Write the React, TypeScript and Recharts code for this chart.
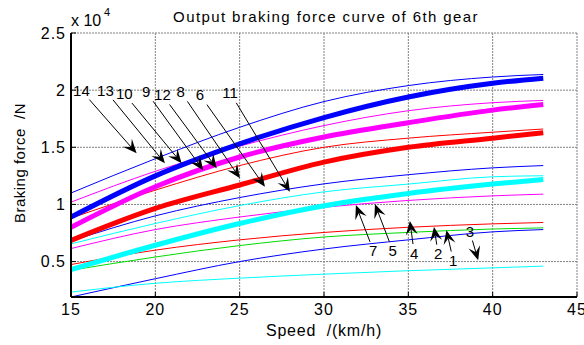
import React from 'react';
import { LineChart, Line, XAxis, YAxis, CartesianGrid, ReferenceLine } from 'recharts';

// Speed (km/h)
const speeds = [15, 20, 25, 30, 35, 40, 43];
// Braking force (x 10^4 N)
const thickBlue = [0.89, 1.25, 1.53, 1.76, 1.94, 2.06, 2.105];
const thickMagenta = [0.8, 1.155, 1.415, 1.59, 1.715, 1.825, 1.875];
const thickRed = [0.685, 0.965, 1.17, 1.37, 1.5, 1.58, 1.628];
const thickCyan = [0.43, 0.643, 0.833, 0.988, 1.096, 1.178, 1.219];
const thinBlue1 = [1.1, 1.4, 1.675, 1.9, 2.04, 2.115, 2.137];
const thinMagenta1 = [1.02, 1.29, 1.51, 1.69, 1.82, 1.89, 1.91];
const thinRed1 = [0.88, 1.125, 1.34, 1.5, 1.58, 1.632, 1.66];
const thinBlue2 = [0.68, 0.9, 1.06, 1.18, 1.26, 1.32, 1.34];
const thinCyan1 = [0.655, 0.833, 0.99, 1.11, 1.178, 1.242, 1.251];
const thinMagenta2 = [0.614, 0.78, 0.89, 0.975, 1.035, 1.075, 1.09];
const thinRed2 = [0.474, 0.6, 0.69, 0.755, 0.8, 0.83, 0.842];
const thinGreen = [0.424, 0.54, 0.64, 0.715, 0.755, 0.785, 0.795];
const thinBlue3 = [0.19, 0.35, 0.5, 0.61, 0.69, 0.76, 0.78];
const thinCyan3 = [0.233, 0.31, 0.355, 0.39, 0.42, 0.445, 0.46];

const xTicks = [15, 20, 25, 30, 35, 40, 45];
const yTicks = [0.5, 1, 1.5, 2, 2.5];

// annotation arrows: label position -> arrow tip (data coordinates)
const topArrows = [
  { label: '14', lx: 15.62, ly: 1.996, tx: 18.89, ty: 1.447 },
  { label: '13', lx: 17.04, ly: 1.996, tx: 20.57, ty: 1.36 },
  { label: '10', lx: 18.16, ly: 1.968, tx: 21.56, ty: 1.36 },
  { label: '9', lx: 19.45, ly: 1.988, tx: 22.84, ty: 1.3 },
  { label: '12', lx: 20.42, ly: 1.959, tx: 23.64, ty: 1.316 },
  { label: '8', lx: 21.5, ly: 1.988, tx: 25.02, ty: 1.228 },
  { label: '6', lx: 22.65, ly: 1.959, tx: 26.5, ty: 1.154 },
  { label: '11', lx: 24.43, ly: 1.979, tx: 27.98, ty: 1.11 },
];
const bottomArrows = [
  { label: '7', lx: 32.92, ly: 0.599, tx: 31.89, ty: 0.994 },
  { label: '5', lx: 34.07, ly: 0.599, tx: 33.02, ty: 1.003 },
  { label: '4', lx: 35.35, ly: 0.575, tx: 35.09, ty: 0.856 },
  { label: '2', lx: 36.77, ly: 0.57, tx: 36.52, ty: 0.803 },
  { label: '1', lx: 37.66, ly: 0.511, tx: 37.26, ty: 0.775 },
  { label: '3', lx: 38.65, ly: 0.76, tx: 39.14, ty: 0.511 },
];

const data = speeds.map((x, i) => ({
  x,
  thickBlue: thickBlue[i],
  thickMagenta: thickMagenta[i],
  thickRed: thickRed[i],
  thickCyan: thickCyan[i],
  thinBlue1: thinBlue1[i],
  thinMagenta1: thinMagenta1[i],
  thinRed1: thinRed1[i],
  thinBlue2: thinBlue2[i],
  thinCyan1: thinCyan1[i],
  thinMagenta2: thinMagenta2[i],
  thinRed2: thinRed2[i],
  thinGreen: thinGreen[i],
  thinBlue3: thinBlue3[i],
  thinCyan3: thinCyan3[i],
}));

const thinSeries = [
  { key: 'thinBlue1', color: '#0000ff' },
  { key: 'thinMagenta1', color: '#ff00ff' },
  { key: 'thinRed1', color: '#ff0000' },
  { key: 'thinBlue2', color: '#0000ff' },
  { key: 'thinCyan1', color: '#00ffff' },
  { key: 'thinMagenta2', color: '#ff00ff' },
  { key: 'thinRed2', color: '#ff0000' },
  { key: 'thinGreen', color: '#00dd00' },
  { key: 'thinBlue3', color: '#0000ff' },
  { key: 'thinCyan3', color: '#00ffff' },
];
const thickSeries = [
  { key: 'thickBlue', color: '#0000ff' },
  { key: 'thickMagenta', color: '#ff00ff' },
  { key: 'thickRed', color: '#ff0000' },
  { key: 'thickCyan', color: '#00ffff' },
];

const FONT = '"Liberation Sans", Arial, sans-serif';

const makeArrow = (label: string, gap: number) => (p: any) => {
  const { x1, y1, x2, y2 } = p;
  if (![x1, y1, x2, y2].every((v) => typeof v === 'number' && isFinite(v))) return <g />;
  const dx = x2 - x1;
  const dy = y2 - y1;
  const len = Math.hypot(dx, dy) || 1;
  const ux = dx / len;
  const uy = dy / len;
  const nx = -uy;
  const ny = ux;
  const L = 14;
  const W = 12;
  const sx = x1 + ux * gap;
  const sy = y1 + uy * gap;
  const bx = x2 - ux * L;
  const by = y2 - uy * L;
  const mx = x2 - ux * L * 0.6;
  const my = y2 - uy * L * 0.6;
  return (
    <g>
      <text
        x={x1}
        y={y1}
        textAnchor="middle"
        dominantBaseline="central"
        fontSize={15}
        fontFamily={FONT}
        fill="#000"
      >
        {label}
      </text>
      <line x1={sx} y1={sy} x2={mx} y2={my} stroke="#000" strokeWidth={1} />
      <polygon
        points={`${x2},${y2} ${bx + (nx * W) / 2},${by + (ny * W) / 2} ${mx},${my} ${bx - (nx * W) / 2},${by - (ny * W) / 2}`}
        fill="#000"
      />
    </g>
  );
};

export default function App() {
  const tickStyle = { fill: '#000', fontSize: 16, fontFamily: FONT, letterSpacing: 1 };
  return (
    <div style={{ position: 'absolute', left: 0, top: 0, width: 584, height: 345, background: '#fff' }}>
      <LineChart
        width={584}
        height={345}
        data={data}
        margin={{ top: 33, right: 7, bottom: 18, left: 0 }}
      >
        <CartesianGrid stroke="#808080" strokeDasharray="2 1" strokeWidth={1} />
        <XAxis
          dataKey="x"
          type="number"
          domain={[15, 45]}
          ticks={xTicks}
          allowDataOverflow
          height={30}
          axisLine={{ stroke: '#000', strokeWidth: 2 }}
          tickLine={{ stroke: '#000' }}
          tickSize={-5}
          tickMargin={12}
          tick={tickStyle}
          interval={0}
        />
        <XAxis
          xAxisId="top"
          orientation="top"
          type="number"
          dataKey="x"
          domain={[15, 45]}
          ticks={xTicks}
          allowDataOverflow
          height={0}
          axisLine={{ stroke: '#000', strokeWidth: 1 }}
          tickLine={{ stroke: '#000' }}
          tickSize={-5}
          tick={false}
        />
        <YAxis
          type="number"
          domain={[0.19, 2.5]}
          ticks={yTicks}
          allowDataOverflow
          width={71}
          axisLine={{ stroke: '#000', strokeWidth: 2 }}
          tickLine={{ stroke: '#000' }}
          tickSize={-5}
          tickMargin={10}
          tick={tickStyle}
          interval={0}
        />
        <YAxis
          yAxisId="right"
          orientation="right"
          type="number"
          domain={[0.19, 2.5]}
          ticks={yTicks}
          allowDataOverflow
          width={0}
          axisLine={{ stroke: '#000', strokeWidth: 2 }}
          tickLine={{ stroke: '#000' }}
          tickSize={-5}
          tick={false}
        />
        {thinSeries.map((s) => (
          <Line
            key={s.key}
            dataKey={s.key}
            type="monotone"
            stroke={s.color}
            strokeWidth={1}
            dot={false}
            isAnimationActive={false}
          />
        ))}
        {thickSeries.map((s) => (
          <Line
            key={s.key}
            dataKey={s.key}
            type="monotone"
            stroke={s.color}
            strokeWidth={5}
            dot={false}
            isAnimationActive={false}
          />
        ))}
        {topArrows.map((a) => (
          <ReferenceLine
            key={'t' + a.label}
            segment={[
              { x: a.lx, y: a.ly },
              { x: a.tx, y: a.ty },
            ]}
            stroke="#000"
            shape={makeArrow(a.label, 12)}
          />
        ))}
        {bottomArrows.map((a) => (
          <ReferenceLine
            key={'b' + a.label}
            segment={[
              { x: a.lx, y: a.ly },
              { x: a.tx, y: a.ty },
            ]}
            stroke="#000"
            shape={makeArrow(a.label, 9)}
          />
        ))}
      </LineChart>
      <svg
        width={584}
        height={345}
        style={{ position: 'absolute', left: 0, top: 0, pointerEvents: 'none' }}
      >
        <text x={326} y={22} textAnchor="middle" fontSize={15} fontFamily={FONT} letterSpacing={1.4} fill="#000">
          Output braking force curve of 6th gear
        </text>
        <text x={71} y={26} fontSize={16} fontFamily={FONT} fill="#000" style={{ whiteSpace: 'pre' }}>
          x 10
        </text>
        <text x={104} y={16} fontSize={11} fontFamily={FONT} fill="#000">
          4
        </text>
        <text
          x={0}
          y={0}
          transform="translate(25,163) rotate(-90)"
          textAnchor="middle"
          fontSize={15}
          letterSpacing={0.5}
          fontFamily={FONT}
          fill="#000"
          style={{ whiteSpace: 'pre' }}
        >
          Braking force  /N
        </text>
        <text
          x={324}
          y={336}
          textAnchor="middle"
          fontSize={16}
          letterSpacing={0.8}
          fontFamily={FONT}
          fill="#000"
          style={{ whiteSpace: 'pre' }}
        >
          Speed  /(km/h)
        </text>
      </svg>
    </div>
  );
}
